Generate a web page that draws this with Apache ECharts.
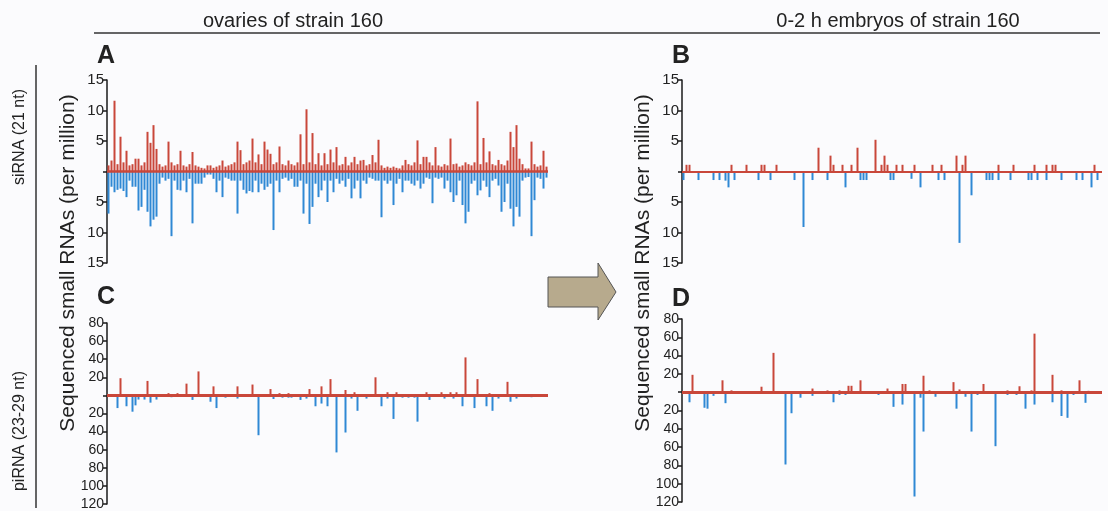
<!DOCTYPE html>
<html><head><meta charset="utf-8">
<script src="https://cdn.jsdelivr.net/npm/echarts@6/dist/echarts.min.js"></script>
<style>html,body{margin:0;padding:0;background:#fbfbfd}#c{width:1108px;height:511px}</style>
</head><body><div id="c"></div>
<script>
// ---- DATA (reads per million; antisense/blue given as magnitudes) ----
const redA = [
1.0,1.8,11.6,1.2,5.7,1.5,3.4,1.0,1.2,2.1,
2.1,1.0,1.5,6.5,4.7,7.6,3.7,1.2,0.8,1.0,
4.9,1.5,1.0,1.2,3.4,1.0,0.8,1.2,3.2,1.0,
0.8,0.6,0.5,1.0,1.0,0.6,0.8,1.0,1.8,0.8,
1.0,1.2,1.5,4.9,3.5,1.2,1.5,1.8,5.4,1.5,
2.8,1.2,4.9,3.6,2.9,1.2,1.5,4.1,1.2,1.0,
1.8,1.2,1.0,1.5,6.1,1.2,10.2,1.5,6.3,1.2,
3.0,1.0,3.0,1.2,3.6,1.5,4.0,1.0,1.2,2.4,
1.0,1.5,2.4,1.2,1.8,1.9,1.0,1.2,2.7,1.5,
5.2,1.0,0.6,0.8,0.6,0.8,0.6,0.5,1.0,1.9,
1.2,1.0,1.5,5.1,1.2,2.4,2.4,1.5,1.0,4.0,
1.0,0.8,1.2,1.0,5.4,1.2,1.3,0.8,1.0,1.5,
1.2,1.0,1.5,11.5,1.2,5.5,1.5,3.3,1.2,1.0,
1.9,1.2,1.0,1.8,6.5,4.0,7.6,2.1,1.2,0.5,
0.5,4.9,1.2,0.8,1.0,3.4,0.8];
const blueA = [
6.9,2.5,3.4,3.0,2.8,3.2,4.2,1.5,2.5,2.5,
6.4,5.8,3.0,6.6,9.0,7.9,7.4,2.0,1.0,1.5,
1.2,10.6,1.5,3.0,3.1,1.5,3.4,1.2,8.5,2.0,
2.0,2.0,1.0,0.5,0.5,1.2,3.4,1.5,4.2,1.0,
1.2,1.5,1.5,6.9,1.5,3.0,3.6,3.2,3.4,1.5,
3.4,2.0,3.0,2.5,2.0,9.6,1.5,3.4,1.2,1.0,
1.5,1.2,2.5,2.5,1.5,6.9,2.0,8.6,5.8,2.0,
4.2,3.1,1.5,5.0,1.5,3.4,1.2,2.0,1.5,2.5,
1.2,4.4,2.8,1.5,4.4,1.5,2.0,1.0,1.2,1.5,
1.5,7.5,1.5,2.0,1.5,5.5,2.0,1.2,3.4,1.5,
1.5,2.0,2.3,1.5,2.8,2.0,1.0,1.2,5.2,1.0,
1.2,1.0,2.8,1.5,3.4,5.0,3.9,1.5,5.5,8.5,
6.6,2.0,1.5,3.9,3.1,1.5,2.5,4.2,1.5,1.2,
2.3,6.6,5.0,2.0,6.1,9.0,5.8,7.4,1.5,1.0,
0.9,10.6,4.7,1.0,1.2,2.8,1.0];
const redB = [
0,1.1,1.1,0,0,0,0,0,0,0,
0,0,0,0,0,0,1.1,0,0,0,
0,1.1,0,0,0,0,1.1,1.1,0,0,
0,1.1,0,0,0,0,0,0,0,0,
0,0,0,0,0,3.9,0,0,0,2.6,
1.1,0,0,1.1,0,0,1.1,0,3.9,0,
0,0,0,0,5.2,0,1.1,2.6,1.1,0,
0,1.1,0,1.1,0,0,0,1.1,0,0,
0,0,0,1.1,0,0,1.1,0,0,0,
0,2.6,0,1.1,2.6,0,0,0,0,0,
0,0,0,0,0,1.1,0,0,0,0,
1.1,0,0,0,0,0,0,1.1,0,0,
0,1.1,0,1.1,1.1,0,0,0,0,0,
0,0,0,0,0,0,0,1.1,0,0];
const blueB = [
1.4,0,0,0,0,1.4,0,0,0,0,
1.4,0,1.4,0,1.5,2.6,0,1.4,0,0,
0,0,0,0,0,1.4,0,0,0,1.4,
0,0,0,0,0,0,0,1.4,0,0,
9.1,0,0,1.4,0,0,0,0,1.4,0,
0,0,0,0,2.6,0,0,0,0,1.4,
1.4,1.4,0,0,0,0,0,0,0,1.4,
1.4,0,0,0,0,0,1.2,0,0,2.6,
0,0,0,0,0,1.4,0,1.4,0,0,
0,0,11.7,0,0,0,3.9,0,0,0,
0,1.4,1.4,1.4,0,1.4,0,0,0,1.4,
0,0,0,0,0,1.4,1.4,0,1.4,0,
0,1.4,0,0,0,0,1.4,0,0,0,
0,1.4,0,1.4,0,0,2.6,0,1.4,0];
const redC = [
0,0,0,0,19,0,0,0,0,0,
0,0,0,16,0,0,0,0,0,0,
2.5,0,0,2.5,0,0,13,0,0,0,
26.5,0,0,0,0,10,0,0,0,0,
0,0,0,10,0,0,0,0,12,0,
0,0,0,0,7,0,0,2.5,0,0,
2.5,0,0,0,0,0,0,7,0,0,
0,10,0,0,18,0,0,0,0,6,
0,0,3.5,0,0,0,0,0,0,20,
0,0,0,3.5,0,0,3.5,0,0,0,
0,0,0,0,0,0,3.5,0,0,0,
0,3.5,0,0,3.5,0,3.5,0,0,42,
0,0,0,18,0,0,0,2.5,0,0,
0,0,0,15,0,0,0,1.5,0,0,
1.5,0,0,0,1.5,0,0];
const blueC = [
0,0,0,14,0,0,12,0,18,11,
4.6,0,4.6,0,8,0,4.6,0,0,0,
0,2,0,0,0,0,0,0,5,0,
0,0,0,0,7,0,14,0,0,2.5,
0,0,0,3.5,0,0,0,0,0,0,
44,0,0,0,0,4,0,0,2.5,0,
2.5,2.5,0,0,5,0,3.5,0,0,12,
0,9,0,12,0,0,63,0,0,41,
0,3.5,0,17,0,0,3.5,0,0,0,
0,12,0,3.5,0,26,0,0,2.5,0,
2.5,0,2.5,29,0,0,0,5,0,0,
0,0,3.5,0,0,3.5,0,0,12,0,
0,0,14,0,0,0,12,0,17,0,
3.5,0,0,0,7,0,3.5,0,0,0,
0,2,0,0,0,0,0];
const redD = [
0,0,0,19,0,0,0,0,0,0,
0,0,0,13,0,0,2,0,0,0,
0,0,0,0,0,0,6,0,0,0,
43,0,0,0,0,0,0,0,0,0,
0,0,0,4,0,0,0,0,2,0,
0,0,2,0,0,7,7,0,0,13,
0,0,0,0,0,0,0,0,4,0,
0,0,0,9,9,0,0,0,0,0,
18,0,2,0,0,0,0,0,0,0,
11,0,3,0,0,0,0,0,0,0,
9,0,0,0,0,0,0,0,2,0,
0,0,6.5,0,0,0,2,64,0,0,
0,0,0,19,0,0,2,0,0,0,
0,0,13,0,0,1.5,0,0,0,0];
const blueD = [
0,0,11,0,0,0,0,17,18,0,
4,0,0,0,12,0,2,0,0,0,
0,2,0,0,0,0,0,0,0,0,
0,0,0,0,79,0,23,0,0,6,
0,0,0,4,0,0,0,0,2,0,
11,0,3,0,3,0,0,0,0,2,
0,0,0,0,0,3,0,0,0,0,
16,0,0,13.5,0,0,0,114,0,6,
43,0,0,0,5,0,0,0,2,0,
0,18,0,0,5,0,43,0,3,0,
0,0,0,0,59,0,0,0,3,0,
0,3,0,0,18,0,2,13.5,0,0,
0,0,0,11,0,0,26,0,28,0,
3,0,0,0,11.6,0,2,0,0,0];
const siTicks = {min:-15, max:15, interval:5};
const piTicks = {min:-120, max:80, interval:20};
const titles = ['ovaries of strain 160', '0-2 h embryos of strain 160'];
const rowLabels = ['siRNA (21 nt)', 'piRNA (23-29 nt)'];
const yTitle = 'Sequenced small RNAs (per million)';
const panelLetters = ['A','B','C','D'];

// ---- CHART ----
const FONT = "'Liberation Sans', Arial, Helvetica, sans-serif";
const RED = '#c9473a', BLUE = '#2f88d4';
const panels = [
  {red: redA, blue: blueA, ticks: siTicks, grid:{left:107, width:441, top:80, height:183}, fs:15, lw:2.5},
  {red: redB, blue: blueB, ticks: siTicks, grid:{left:682, width:420, top:80, height:183}, fs:15, lw:2},
  {red: redC, blue: blueC, ticks: piTicks, grid:{left:107, width:441, top:323, height:185}, fs:14, lw:3},
  {red: redD, blue: blueD, ticks: piTicks, grid:{left:682, width:420, top:319, height:183}, fs:14, lw:3}
];
const grid = [], xAxis = [], yAxis = [], series = [];
panels.forEach((p, i) => {
  grid.push(p.grid);
  xAxis.push({type:'category', gridIndex:i, show:false, data:p.red.map((_, k) => k)});
  yAxis.push({type:'value', gridIndex:i, min:p.ticks.min, max:p.ticks.max, interval:p.ticks.interval,
    axisLine:{show:true, lineStyle:{color:'#1a1a1a', width:1.5}},
    axisTick:{show:true, length:4, lineStyle:{color:'#1a1a1a', width:1.5}},
    splitLine:{show:false},
    axisLabel:{formatter: v => v === 0 ? '' : String(Math.abs(v)), color:'#222', fontSize:p.fs, fontFamily:FONT, margin:3}
  });
  series.push({type:'bar', xAxisIndex:i, yAxisIndex:i, data:p.blue.map(v => -v), barWidth:2, barGap:'-100%',
    itemStyle:{color:BLUE}, silent:true, animation:false});
  series.push({type:'bar', xAxisIndex:i, yAxisIndex:i, data:p.red, barWidth:2, barGap:'-100%',
    itemStyle:{color:RED}, silent:true, animation:false,
    markLine:{silent:true, symbol:'none', label:{show:false}, data:[{yAxis:0}],
      lineStyle:{color:RED, width:p.lw, type:'solid'}, animation:false}});
});
const txt = (x, y, t, fs, opts) => Object.assign({type:'text', x, y,
  style:{text:t, font:(opts && opts.bold ? 'bold ' : '') + fs + 'px ' + FONT, fill:'#222', textAlign:'center', textVerticalAlign:'middle'}}, opts && opts.rot ? {rotation:Math.PI/2} : {});
const graphic = [
  txt(293, 21, titles[0], 20),
  txt(898, 21, titles[1], 20),
  {type:'line', shape:{x1:94, y1:33, x2:1100, y2:33}, style:{stroke:'#333', lineWidth:1.5}},
  {type:'line', shape:{x1:36, y1:65, x2:36, y2:508}, style:{stroke:'#333', lineWidth:1.5}},
  txt(20, 137, rowLabels[0], 16, {rot:true}),
  txt(20, 431, rowLabels[1], 16, {rot:true}),
  txt(68, 263, yTitle, 21, {rot:true}),
  txt(643, 263, yTitle, 21, {rot:true}),
  txt(106, 56, panelLetters[0], 25, {bold:true}),
  txt(681, 56, panelLetters[1], 25, {bold:true}),
  txt(106, 297, panelLetters[2], 25, {bold:true}),
  txt(681, 299, panelLetters[3], 25, {bold:true}),
  {type:'polygon', shape:{points:[[548,277],[598,277],[598,263],[616,292],[598,320],[598,307],[548,307]]},
    style:{fill:'#b7aa8d', stroke:'#555', lineWidth:1}}
];
const chart = echarts.init(document.getElementById('c'), null, {renderer:'canvas'});
chart.setOption({backgroundColor:'#fbfbfd', animation:false, grid, xAxis, yAxis, series, graphic});
</script></body></html>
